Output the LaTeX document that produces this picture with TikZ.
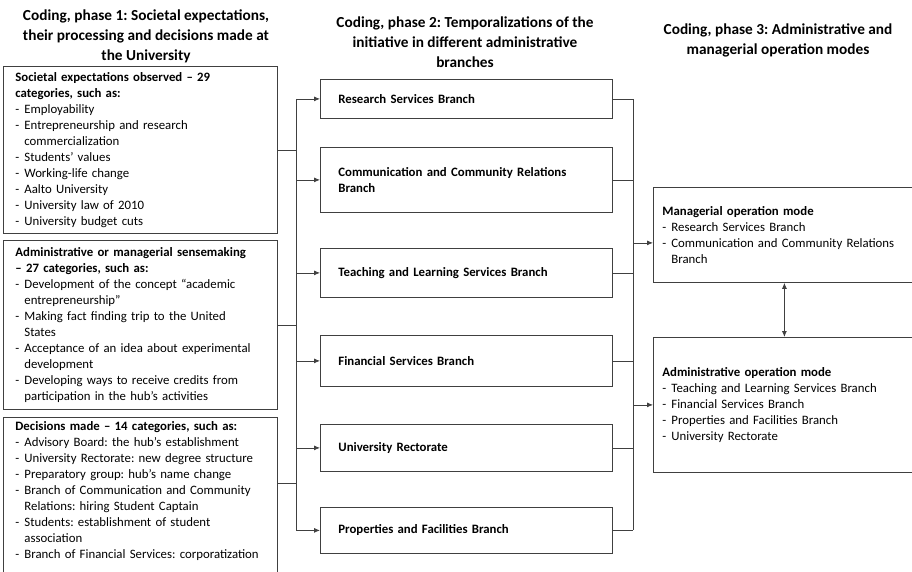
\documentclass[tikz,border=0pt]{standalone}
\usepackage{fontspec}
\setmainfont{Carlito}
\usetikzlibrary{positioning,arrows.meta}

\frenchspacing
\newcommand{\dashitem}{\par\hangindent=9pt\hangafter=1\noindent\makebox[9pt][l]{-}}

\begin{document}
\begin{tikzpicture}[x=1pt,y=-1pt,title/.style={align=center,font=\fontsize{15.3}{20}\selectfont\bfseries},leftbox/.style={draw=black!75,line width=0.8pt,anchor=north west,align=left,text width=250pt,inner xsep=12pt,inner ysep=0pt,font=\fontsize{12.8}{16}\selectfont},branchbox/.style={draw=black!75,line width=0.8pt,anchor=north west,align=left,text width=256pt,inner xsep=18pt,inner ysep=0pt,font=\fontsize{12.8}{16}\selectfont\bfseries},modebox/.style={draw=black!75,line width=0.8pt,anchor=north west,align=left,text width=244pt,inner xsep=9pt,inner ysep=0pt,font=\fontsize{12.8}{16}\selectfont},conn/.style={draw=black!75,line width=0.8pt},arr/.style={conn,-{Latex[length=6pt,width=5pt]}}]
\clip (0,0) rectangle (912,571);
% headings of the three phases
\node[title] (t1) at (146,36) {Coding, phase 1: Societal expectations,\\ their processing and decisions made at\\ the University};
\node[title] (t2) at (465,42) {Coding, phase 2: Temporalizations of the\\ initiative in different administrative\\ branches};
\node[title] (t3) at (778,40.5) {Coding, phase 3: Administrative and\\ managerial operation modes};
% phase 1
\node[leftbox,minimum height=167pt] (soc) at (3,66) {\textbf{Societal expectations observed -- 29}\newline \textbf{categories, such as:}
\dashitem Employability
\dashitem Entrepreneurship and research\newline commercialization
\dashitem Students’ values
\dashitem Working-life change
\dashitem Aalto University
\dashitem University law of 2010
\dashitem University budget cuts\par};
\node[leftbox,minimum height=169pt] (sen) at (3,240) {\textbf{Administrative or managerial sensemaking}\newline \textbf{-- 27 categories, such as:}
\dashitem Development of the concept “academic\newline entrepreneurship”
\dashitem Making fact finding trip to the United\newline States
\dashitem Acceptance of an idea about experimental\newline development
\dashitem Developing ways to receive credits from\newline participation in the hub’s activities\par};
\node[leftbox,inner ysep=4pt] (dec) at (3,417) {\textbf{Decisions made -- 14 categories, such as:}
\dashitem Advisory Board: the hub’s establishment
\dashitem University Rectorate: new degree structure
\dashitem Preparatory group: hub’s name change
\dashitem Branch of Communication and Community\newline Relations: hiring Student Captain
\dashitem Students: establishment of student\newline association
\dashitem Branch of Financial Services: corporatization
\par\rule{0pt}{30pt}};
% phase 2
\node[branchbox,minimum height=39pt] (rsb) at (320,79) {Research Services Branch};
\node[branchbox,minimum height=65pt] (ccb) at (320,147) {Communication and Community Relations\\ Branch};
\node[branchbox,minimum height=49pt] (tlb) at (320,248) {Teaching and Learning Services Branch};
\node[branchbox,minimum height=51pt] (fsb) at (320,335) {Financial Services Branch};
\node[branchbox,minimum height=47pt] (urb) at (320,424) {University Rectorate};
\node[branchbox,minimum height=46pt] (pfb) at (320,507) {Properties and Facilities Branch};
% phase 3
\node[modebox,minimum height=95pt] (man) at (653,187) {\textbf{Managerial operation mode}
\dashitem Research Services Branch
\dashitem Communication and Community Relations\newline Branch\par};
\node[modebox,minimum height=135pt] (adm) at (653,337) {\textbf{Administrative operation mode}
\dashitem Teaching and Learning Services Branch
\dashitem Financial Services Branch
\dashitem Properties and Facilities Branch
\dashitem University Rectorate\par};
% connectors
\coordinate (lbus) at (296,0);
\coordinate (rbus) at (633,0);
\coordinate (decout) at ([yshift=-66pt]dec.north east);
\draw[conn] (soc.east) -- (soc.east -| lbus);
\draw[conn] (sen.east) -- (sen.east -| lbus);
\draw[conn] (decout) -- (decout -| lbus);
\draw[conn] (rsb.west -| lbus) -- (pfb.west -| lbus);
\foreach \b in {rsb,ccb,tlb,fsb,urb,pfb} {
  \draw[arr] (\b.west -| lbus) -- (\b.west);
  \draw[conn] (\b.east) -- (\b.east -| rbus);
}
\draw[conn] (rsb.east -| rbus) -- (pfb.east -| rbus);
\draw[arr] ([yshift=-8pt]man.west -| rbus) -- ([yshift=-8pt]man.west);
\draw[arr] (adm.west -| rbus) -- (adm.west);
\draw[conn,{Latex[length=6pt,width=5pt]}-{Latex[length=6pt,width=5pt]}] (man) -- (adm);
\end{tikzpicture}
\end{document}
